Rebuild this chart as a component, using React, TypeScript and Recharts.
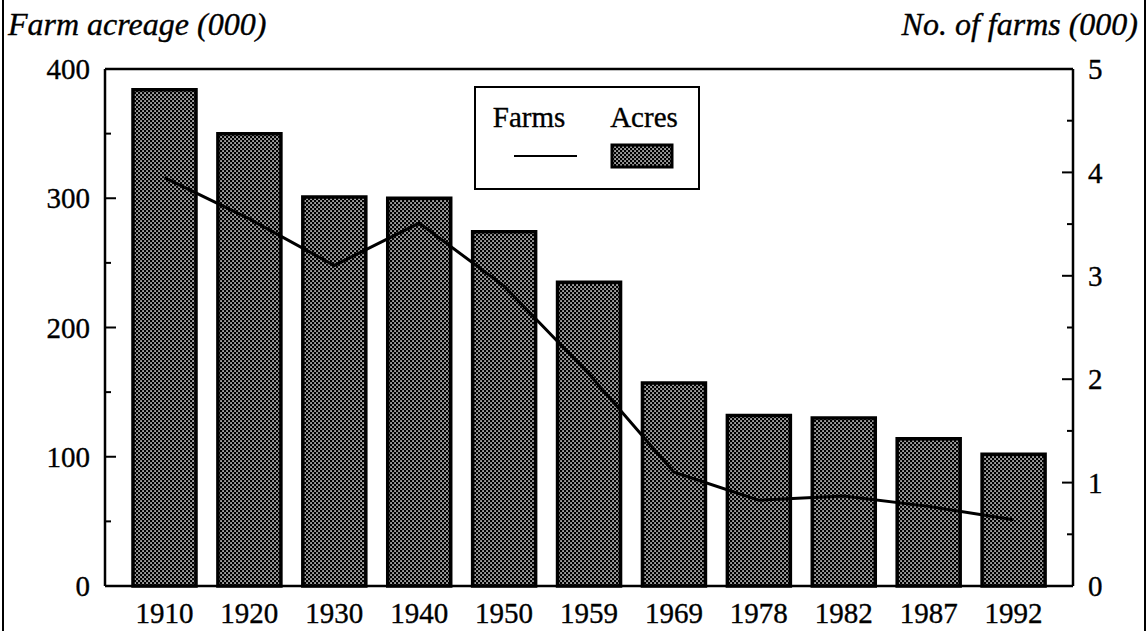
import React from 'react';
import { ComposedChart, Bar, Line, XAxis, YAxis, ReferenceLine, Legend } from 'recharts';

const years = ['1910', '1920', '1930', '1940', '1950', '1959', '1969', '1978', '1982', '1987', '1992'];
const acres = [384, 350, 301, 300, 274, 235, 157, 132, 130, 114, 102];
const farms = [3.95, 3.55, 3.1, 3.51, 2.9, 2.05, 1.1, 0.83, 0.87, 0.77, 0.64];
const leftTicks = [0, 50, 100, 150, 200, 250, 300, 350, 400];
const rightTicks = [0, 0.5, 1, 1.5, 2, 2.5, 3, 3.5, 4, 4.5, 5];
const leftTitle = 'Farm acreage (000)';
const rightTitle = 'No. of farms (000)';

const data = years.map((year, i) => ({ year, acres: acres[i], farms: farms[i] }));

const FONT = '"Liberation Serif", "Times New Roman", serif';
const FS = 29;
const TITLE_FS = 32;
const TICK_MARGIN = 15;
const TEXT_STROKE = 0.35;

const LeftTick = (props: any) => {
  const { x, y, payload } = props;
  const v = payload.value;
  const axisX = x + TICK_MARGIN;
  const major = v % 100 === 0;
  const isEnd = v === 0 || v === 400;
  return (
    <g>
      {!isEnd && (
        <line x1={axisX} x2={axisX + (major ? 11 : 6)} y1={y} y2={y} stroke="#000" strokeWidth={2} />
      )}
      {major && (
        <text x={x} y={y} dy="0.35em" textAnchor="end" fontFamily={FONT} fontSize={FS} fill="#000" stroke="#000" strokeWidth={TEXT_STROKE}>
          {v}
        </text>
      )}
    </g>
  );
};

const RightTick = (props: any) => {
  const { x, y, payload } = props;
  const v = payload.value;
  const axisX = x - TICK_MARGIN;
  const major = Number.isInteger(v);
  const isEnd = v === 0 || v === 5;
  return (
    <g>
      {!isEnd && (
        <line x1={axisX} x2={axisX - (major ? 11 : 6)} y1={y} y2={y} stroke="#000" strokeWidth={2} />
      )}
      {major && (
        <text x={x} y={y} dy="0.35em" textAnchor="start" fontFamily={FONT} fontSize={FS} fill="#000" stroke="#000" strokeWidth={TEXT_STROKE}>
          {v}
        </text>
      )}
    </g>
  );
};

const XTick = (props: any) => {
  const { x, y, payload } = props;
  return (
    <text x={x} y={y} dy="0.71em" textAnchor="middle" fontFamily={FONT} fontSize={FS} fill="#000" stroke="#000" strokeWidth={TEXT_STROKE}>
      {payload.value}
    </text>
  );
};

const LegendBox = (props: any) => {
  const payload = props.payload || [];
  const farmsItem = payload.find((p: any) => p.dataKey === 'farms');
  const acresItem = payload.find((p: any) => p.dataKey === 'acres');
  return (
    <svg width={226} height={104} style={{ display: 'block' }}>
      <rect x={1} y={1} width={224} height={102} fill="#fff" stroke="#000" strokeWidth={2} />
      <text x={55} y={41} textAnchor="middle" fontFamily={FONT} fontSize={FS} fill="#000" stroke="#000" strokeWidth={TEXT_STROKE}>
        {farmsItem ? farmsItem.value : 'Farms'}
      </text>
      <line x1={40} x2={103} y1={70} y2={70} stroke="#000" strokeWidth={2} />
      <text x={170} y={41} textAnchor="middle" fontFamily={FONT} fontSize={FS} fill="#000" stroke="#000" strokeWidth={TEXT_STROKE}>
        {acresItem ? acresItem.value : 'Acres'}
      </text>
      <rect x={138} y={59} width={60} height={22} fill="url(#dots)" stroke="#000" strokeWidth={3} />
    </svg>
  );
};

export default function App() {
  return (
    <div style={{ position: 'absolute', left: 0, top: 0, width: 1147, height: 631, background: '#fff', fontFamily: FONT }}>
      <div style={{ position: 'absolute', left: 2, top: 0, width: 2, height: 631, background: '#000' }} />
      <div style={{ position: 'absolute', left: 1144, top: 0, width: 2, height: 631, background: '#000' }} />
      <div style={{ position: 'absolute', left: 8, top: 8, fontSize: TITLE_FS, lineHeight: 1, fontStyle: 'italic', whiteSpace: 'nowrap', WebkitTextStroke: '0.35px #000' }}>
        {leftTitle}
      </div>
      <div style={{ position: 'absolute', right: 9, top: 8, fontSize: TITLE_FS, lineHeight: 1, fontStyle: 'italic', whiteSpace: 'nowrap', WebkitTextStroke: '0.35px #000' }}>
        {rightTitle}
      </div>
      <ComposedChart
        width={1147}
        height={631}
        data={data}
        margin={{ top: 69, right: 0, bottom: 0, left: 0 }}
        style={{ position: 'absolute', left: 0, top: 0 }}
      >
        <defs>
          <pattern id="dots" patternUnits="userSpaceOnUse" width={4} height={4}>
            <rect x={0} y={0} width={4} height={4} fill="#000" />
            <rect x={0.3} y={0.3} width={1.5} height={1.5} fill="#fff" />
            <rect x={2.3} y={2.3} width={1.5} height={1.5} fill="#fff" />
          </pattern>
        </defs>
        <XAxis
          dataKey="year"
          height={45}
          padding={{ left: 17, right: 17 }}
          axisLine={{ stroke: '#000', strokeWidth: 2.5 }}
          tickLine={false}
          tickSize={0}
          tickMargin={16}
          tick={<XTick />}
          interval={0}
        />
        <YAxis
          yAxisId="left"
          orientation="left"
          width={105}
          domain={[0, 400]}
          ticks={leftTicks}
          interval={0}
          axisLine={{ stroke: '#000', strokeWidth: 2.5 }}
          tickLine={false}
          tickSize={0}
          tickMargin={TICK_MARGIN}
          tick={<LeftTick />}
        />
        <YAxis
          yAxisId="right"
          orientation="right"
          width={74}
          domain={[0, 5]}
          ticks={rightTicks}
          interval={0}
          axisLine={{ stroke: '#000', strokeWidth: 2.5 }}
          tickLine={false}
          tickSize={0}
          tickMargin={TICK_MARGIN}
          tick={<RightTick />}
        />
        <ReferenceLine yAxisId="left" y={400} stroke="#000" strokeWidth={2.5} ifOverflow="extendDomain" />
        <Bar
          yAxisId="left"
          dataKey="acres"
          name="Acres"
          barSize={63}
          fill="url(#dots)"
          stroke="#000"
          strokeWidth={3.5}
          isAnimationActive={false}
        />
        <Line
          yAxisId="right"
          dataKey="farms"
          name="Farms"
          type="linear"
          stroke="#000"
          strokeWidth={3}
          dot={false}
          activeDot={false}
          isAnimationActive={false}
        />
        <Legend
          layout="vertical"
          align="center"
          verticalAlign="middle"
          wrapperStyle={{ left: 474, top: 86, width: 226, height: 104 }}
          content={<LegendBox />}
        />
      </ComposedChart>
    </div>
  );
}
